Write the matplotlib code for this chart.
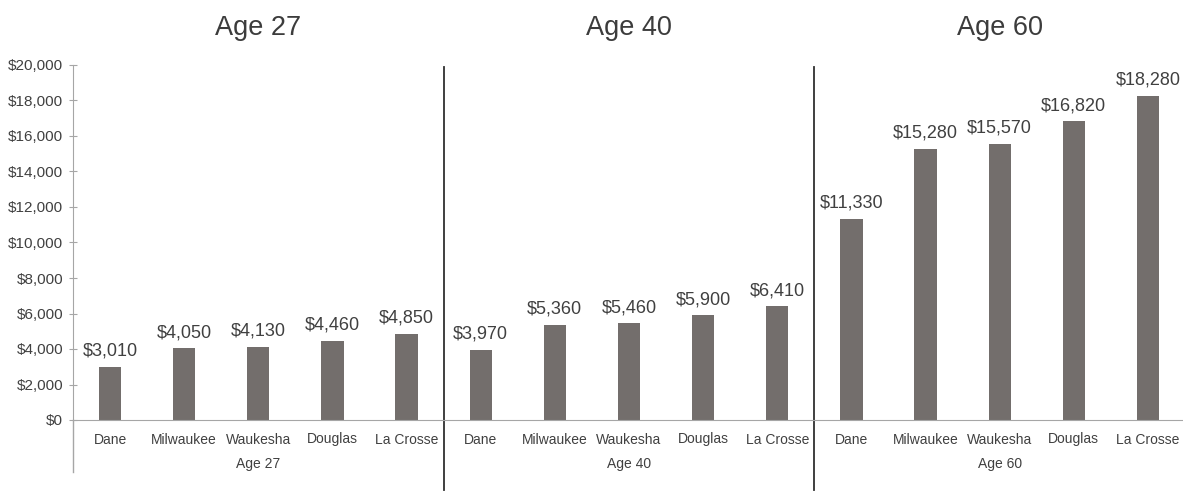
import numpy as np
import matplotlib
matplotlib.use("Agg")
import matplotlib.pyplot as plt
import matplotlib.transforms as mtrans
from matplotlib.ticker import FuncFormatter

plt.rcParams['font.family'] = ['Liberation Sans', 'DejaVu Sans']

groups = ['Age 27', 'Age 40', 'Age 60']
counties = ['Dane', 'Milwaukee', 'Waukesha', 'Douglas', 'La Crosse']
age27 = [3010, 4050, 4130, 4460, 4850]
age40 = [3970, 5360, 5460, 5900, 6410]
age60 = [11330, 15280, 15570, 16820, 18280]

values = age27 + age40 + age60
labels = counties * 3
x = np.arange(len(values))

bar_col = '#736e6c'
txt_col = '#404040'
axis_col = '#a6a6a6'

fig = plt.figure(figsize=(11.83, 4.92), dpi=100)
ax = fig.add_axes([73/1183, 72/492, 1112/1183, 355/492])

ax.bar(x, values, width=0.3, color=bar_col)
ax.set_xlim(-0.5, len(values) - 0.5)
ax.set_ylim(0, 20000)
ax.set_yticks(np.arange(0, 20001, 2000))
ax.yaxis.set_major_formatter(FuncFormatter(lambda v, p: f'${v:,.0f}'))
ax.tick_params(axis='y', colors=axis_col, labelcolor=txt_col, labelsize=11,
               direction='inout', length=6, pad=4)
ax.tick_params(axis='x', length=0, labelsize=10, labelcolor=txt_col, pad=9)
ax.set_xticks(x)
ax.set_xticklabels(labels)

for s in ['top', 'right']:
    ax.spines[s].set_visible(False)
ax.spines['bottom'].set_color(axis_col)
ax.spines['left'].set_color(axis_col)
ax.spines['left'].set_bounds(0, 20000)

trans = mtrans.blended_transform_factory(ax.transData, ax.transAxes)
# left axis line carries on below zero, past the group labels
ax.plot([-0.5, -0.5], [0, -0.147], transform=trans,
        color=axis_col, lw=1, clip_on=False)

for xi, v in zip(x, values):
    ax.annotate(f'${v:,}', (xi, v), xytext=(0, 5), textcoords='offset points',
                ha='center', va='bottom', fontsize=13, color=txt_col)

for gi, g in enumerate(groups):
    cx = gi * 5 + 2
    ax.text(cx, -0.125, g, transform=trans, ha='center', va='center',
            fontsize=10, color=txt_col)
    ax.text(cx, 1.105, g, transform=trans, ha='center', va='center',
            fontsize=19.5, color='#3c3c3c')
    if gi > 0:
        ax.plot([gi * 5 - 0.5] * 2, [-0.197, 0.995], transform=trans,
                color='#303030', lw=1.3, clip_on=False)

fig.savefig('out.png', dpi=100)
